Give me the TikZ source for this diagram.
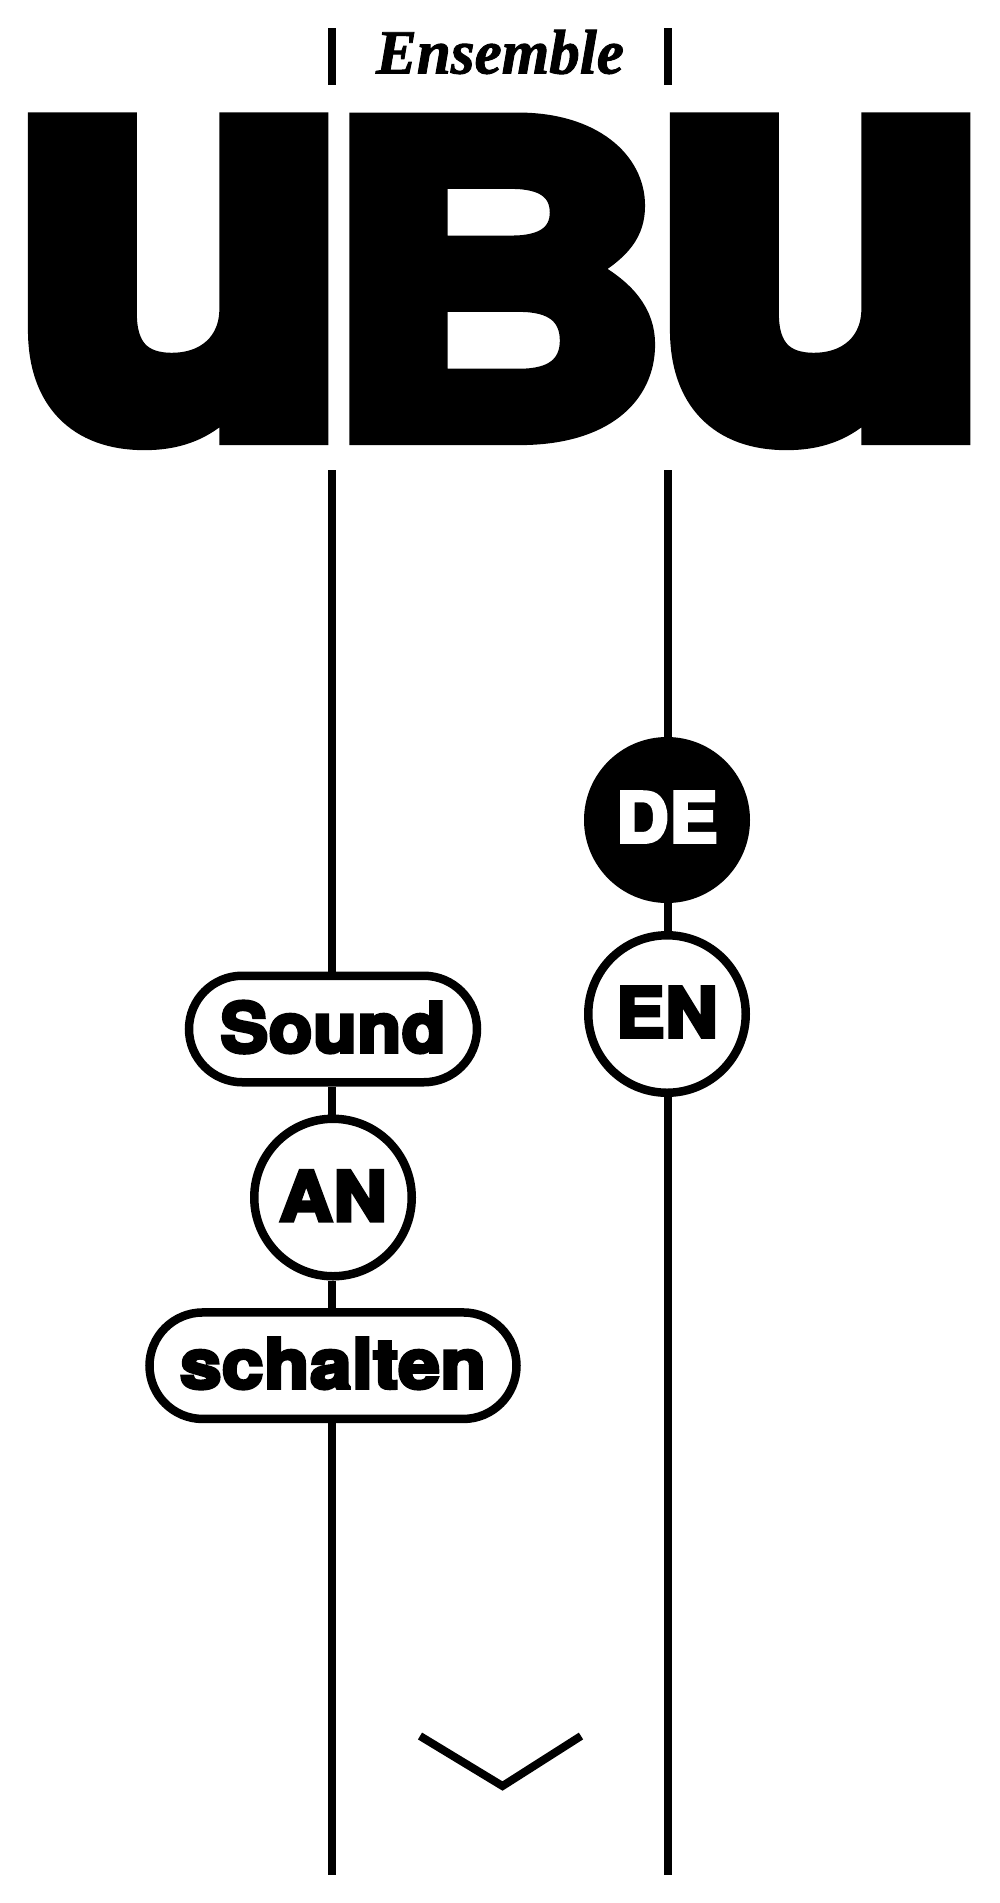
\documentclass[tikz,border=0pt]{standalone}
\usepackage{fontspec}
\usepackage{graphicx}
\usetikzlibrary{shapes.misc}
\newfontfamily\hvy[LetterSpace=1,BoldFeatures={FakeBold=5}]{TeX Gyre Heros}
\newfontfamily\hvybig[BoldFeatures={FakeBold=5.5}]{TeX Gyre Heros}
\newfontfamily\ens[BoldItalicFeatures={FakeBold=1.5}]{Liberation Serif}
\tikzset{
  rail/.style={line width=8.5pt,line cap=butt},
  pill/.style={rounded rectangle,draw,line width=8.5pt,fill=white,inner sep=0pt,minimum height=106.5pt,text depth=0pt,font=\hvy\bfseries\fontsize{69}{69}\selectfont},
  disc/.style={circle,draw,line width=8.5pt,fill=white,inner sep=0pt,minimum size=157.5pt,text depth=0pt,font=\hvy\bfseries\fontsize{69}{69}\selectfont},
  big/.style={inner sep=0pt,outer sep=0pt,anchor=base west,font=\hvybig\bfseries\fontsize{558}{558}\selectfont},
}
\begin{document}
\begin{tikzpicture}[x=1pt,y=-1pt]
\useasboundingbox (0,0) rectangle (1000,1903);
\coordinate (lt1) at (332,28); \coordinate (lt2) at (332,84.5);
\coordinate (rt1) at (668,28); \coordinate (rt2) at (668,84.5);
\coordinate (l1) at (332,470); \coordinate (l2) at (332,1874.5);
\coordinate (r1) at (668,470); \coordinate (r2) at (668,1874.5);
\draw[rail] (lt1)--(lt2);
\draw[rail] (rt1)--(rt2);
\node[inner sep=0pt,anchor=base] (ensemble) at (500,73.5) {\scalebox{0.97}[1]{\ens\bfseries\itshape\fontsize{63}{63}\selectfont Ensemble}};
\node[big] (u1) at (11,429.7) {\scalebox{1}[1.002]{u}};
\node[big] (b) at (323.4,433.4) {\scalebox{0.857}[0.76]{B}};
\node[big] (u2) at (653,429.7) {\scalebox{1}[1.002]{u}};
\node[pill,minimum width=288pt,text height=46.5pt] (sound) at (333,1029) {\scalebox{1.035}[1]{Sound}};
\node[disc,text height=46.9pt] (an) at (333,1197.5) {\scalebox{1.07}[1]{AN}};
\node[pill,minimum width=367pt,text height=45.1pt] (schalten) at (333,1365.7) {\scalebox{1.075}[1]{schalten}};
\node[disc,fill=black,text=white,text height=44.5pt] (de) at (667,820) {\scalebox{1.05}[1]{DE}};
\node[disc,text height=46.5pt] (en) at (667,1014) {\scalebox{1.05}[1]{EN}};
\draw[rail] (l1)--(l1|-sound.north);
\draw[rail] (l1|-sound.south)--(l1|-an.north);
\draw[rail] (l1|-an.south)--(l1|-schalten.north);
\draw[rail] (l1|-schalten.south)--(l2);
\draw[rail] (r1)--(r1|-de.north);
\draw[rail] (r1|-de.south)--(r1|-en.north);
\draw[rail] (r1|-en.south)--(r2);
\coordinate (c1) at (420,1736); \coordinate (c2) at (502.5,1786); \coordinate (c3) at (581,1736);
\draw[line width=8pt,miter limit=10] (c1)--(c2)--(c3);
\end{tikzpicture}
\end{document}
